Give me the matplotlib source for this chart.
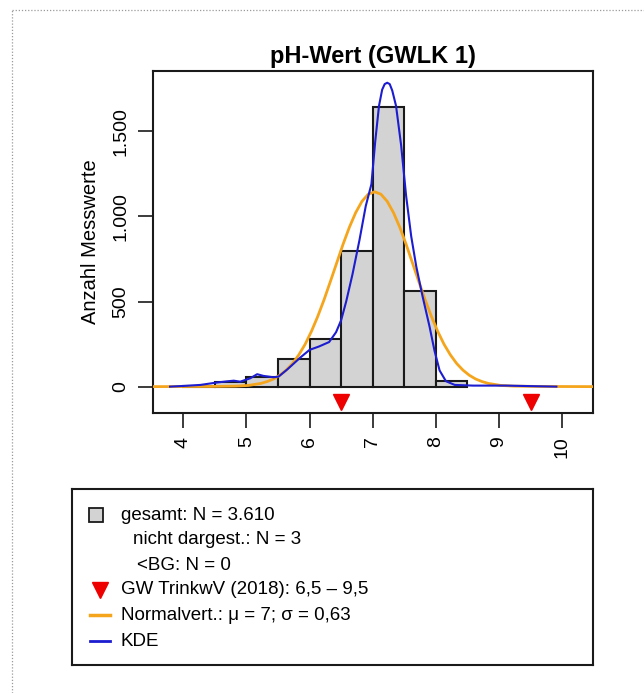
"""
Histogram of pH values (GWLK 1) with normal curve, KDE and drinking water limits.
"""

import matplotlib
matplotlib.use("Agg")
import matplotlib.pyplot as plt
from matplotlib.lines import Line2D

plt.rcParams['font.family'] = ['Liberation Sans', 'DejaVu Sans']

# Histogram (bin edges, counts)
bin_edges = [4.0, 4.5, 5.0, 5.5, 6.0, 6.5, 7.0, 7.5, 8.0, 8.5]
bin_counts = [5, 30, 55, 160, 280, 800, 1645, 560, 35]

# Normal distribution curve
norm_x = [3.50, 4.43, 4.83, 5.03, 5.23, 5.33, 5.43, 5.53, 5.63, 5.73, 5.83, 5.93, 6.03, 6.13,
          6.23, 6.33, 6.43, 6.53, 6.63, 6.73, 6.83, 6.93, 7.03, 7.13, 7.23, 7.33, 7.43, 7.53,
          7.63, 7.73, 7.83, 7.93, 8.03, 8.13, 8.23, 8.33, 8.43, 8.53, 8.63, 8.73, 8.83, 9.03,
          9.23, 9.63, 10.50]
norm_y = [0, 1, 3, 7, 19, 30, 45, 67, 97, 136, 187, 249, 325, 413,
          511, 618, 727, 836, 936, 1022, 1089, 1131, 1145, 1131, 1089, 1022, 936, 836,
          727, 618, 511, 413, 325, 249, 187, 136, 97, 67, 45, 30, 19, 7,
          3, 1, 0]

# KDE curve
kde_x = [3.79, 4.00, 4.27, 4.53, 4.69, 4.80, 4.90, 5.06, 5.17, 5.27, 5.43, 5.51, 5.65, 5.86,
         6.00, 6.15, 6.31, 6.42, 6.50, 6.58, 6.68, 6.79, 6.89, 6.98, 7.04, 7.10, 7.15, 7.19,
         7.23, 7.27, 7.31, 7.37, 7.45, 7.53, 7.61, 7.69, 7.79, 7.90, 7.98, 8.06, 8.16, 8.30,
         8.59, 9.12, 9.50, 9.91]
kde_y = [0, 4, 10, 24, 31, 35, 29, 49, 73, 63, 55, 59, 102, 173,
         216, 236, 262, 320, 390, 500, 660, 860, 1061, 1190, 1440, 1650, 1745, 1778,
         1786, 1778, 1740, 1650, 1420, 1120, 884, 707, 531, 354, 210, 95, 32, 10,
         6, 6, 3, 0]

# Limits (GW TrinkwV 2018)
limit_x = [6.5, 9.5]
limit_y = [-90, -90]

x_ticks = [4, 5, 6, 7, 8, 9, 10]
y_ticks = [0, 500, 1000, 1500]
y_tick_labels = ["0", "500", "1.000", "1.500"]

legend_rows = ["gesamt: N = 3.610", "nicht dargest.: N = 3", "<BG: N = 0",
               "GW TrinkwV (2018): 6,5 \u2013 9,5",
               "Normalvert.: \u03bc = 7; \u03c3 = 0,63", "KDE"]

W, H = 644, 693
fig = plt.figure(figsize=(W / 100, H / 100), dpi=100)

# dotted outer frame (top and left only visible)
fig.add_artist(Line2D([12 / W, 1.0], [1 - 10 / H, 1 - 10 / H], transform=fig.transFigure,
                      color='#9a9a9a', linestyle=(0, (1, 1.5)), linewidth=0.9))
fig.add_artist(Line2D([12 / W, 12 / W], [0.0, 1 - 10 / H], transform=fig.transFigure,
                      color='#9a9a9a', linestyle=(0, (1, 1.5)), linewidth=0.9))

# main axes
ax = fig.add_axes([153 / W, 1 - 413 / H, 440 / W, 342 / H])
widths = [bin_edges[i + 1] - bin_edges[i] for i in range(len(bin_counts))]
ax.bar(bin_edges[:-1], bin_counts, width=widths, align='edge', color='#d3d3d3',
       edgecolor='#1a1a1a', linewidth=1.5, zorder=2)
ax.plot(norm_x, norm_y, color='#f5a51c', linewidth=2.0, zorder=3)
ax.plot(kde_x, kde_y, color='#1c1cd0', linewidth=1.5, zorder=4)
ax.plot(limit_x, limit_y, linestyle='none', marker='v', color='#ee0000',
        markersize=11, zorder=5)

ax.set_xlim(3.52, 10.49)
ax.set_ylim(-155, 1855)
ax.set_xticks(x_ticks)
ax.set_xticklabels([str(t) for t in x_ticks], rotation=90, fontsize=14)
ax.set_yticks(y_ticks)
ax.set_yticklabels(y_tick_labels, rotation=90, va='center', fontsize=14)
ax.tick_params(direction='out', length=11, width=1.2, pad=6, color='#1a1a1a')
for s in ax.spines.values():
    s.set_linewidth(1.5)
    s.set_color('#1a1a1a')
ax.set_title("pH-Wert (GWLK 1)", fontsize=17, fontweight='bold', pad=6)
ax.set_ylabel("Anzahl Messwerte", fontsize=14.5)
ax.yaxis.label.set_va('center')
ax.yaxis.set_label_coords(-0.142, 0.5)

# legend box
lg = fig.add_axes([72 / W, 1 - 665 / H, 521 / W, 176 / H])
lg.set_xlim(0, 521)
lg.set_ylim(176, 0)
lg.set_xticks([])
lg.set_yticks([])
for s in lg.spines.values():
    s.set_linewidth(1.5)
    s.set_color('#1a1a1a')

row_y = [26, 51, 76, 101, 126, 152]
text_x = [49, 61, 65, 49, 49, 49]
for label, ty, tx in zip(legend_rows, row_y, text_x):
    lg.text(tx, ty, label, fontsize=13.5, va='center', ha='left')
lg.plot([23.5], [row_y[0]], marker='s', markersize=10, color='#d3d3d3',
        markeredgecolor='#1a1a1a', markeredgewidth=1.3)
lg.plot([28], [row_y[3]], marker='v', markersize=11, color='#ee0000', linestyle='none')
lg.plot([18, 38], [row_y[4], row_y[4]], color='#f5a51c', linewidth=2.5)
lg.plot([18, 38], [row_y[5], row_y[5]], color='#1c1cd0', linewidth=2.0)

plt.savefig("out.png", dpi=100)
